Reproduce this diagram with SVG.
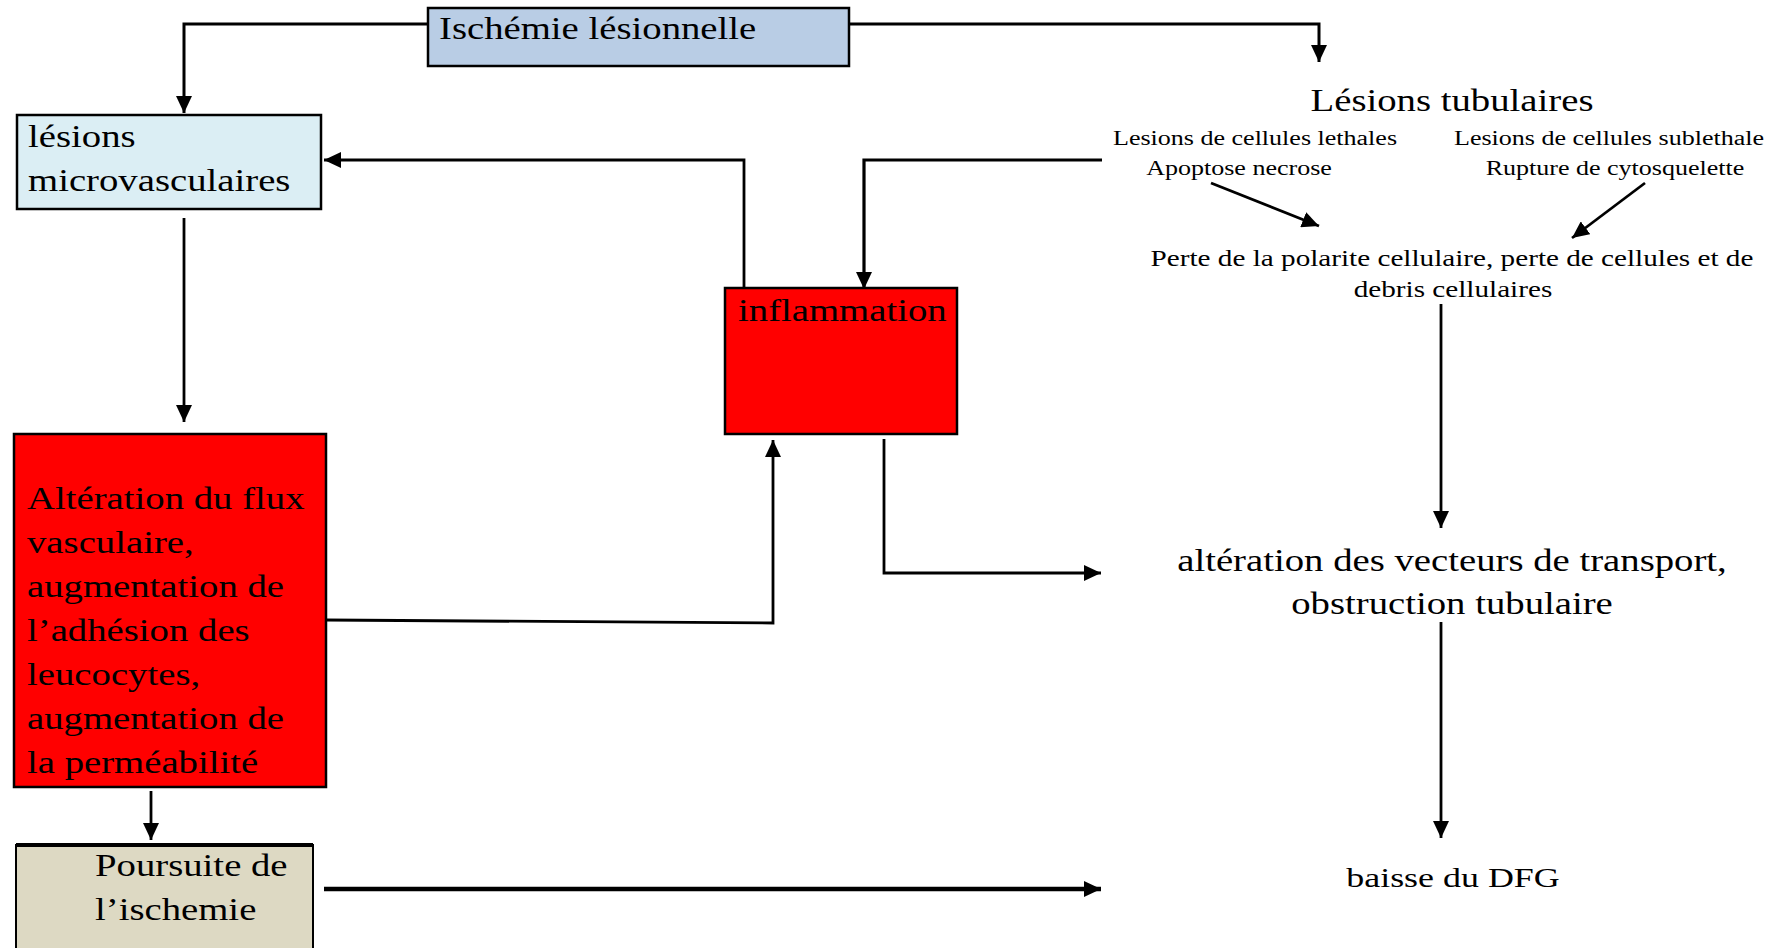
<svg xmlns="http://www.w3.org/2000/svg" width="1780" height="948" viewBox="0 0 1780 948">
<defs>
<marker id="ah" markerUnits="userSpaceOnUse" markerWidth="18" markerHeight="16" refX="17" refY="8" orient="auto">
<path d="M0,0 L17,8 L0,16 z" fill="#000"/>
</marker>
<style>
.box{stroke:#000;stroke-width:2.5}
.t{font-family:"Liberation Serif","Times New Roman",serif;fill:#000}
.L{font-size:30.5px}
.S{font-size:20.5px}
.M{font-size:23px}
.m{text-anchor:middle}
.c{fill:none;stroke:#000;stroke-width:2.8;marker-end:url(#ah)}
</style>
</defs>
<rect width="1780" height="948" fill="#fff"/>
<g id="ischemie">
<rect class="box" x="428" y="8" width="421" height="58" fill="#b9cde5"/>
<text class="t L" transform="translate(439,39) scale(1.27,1)">Ischémie lésionnelle</text>
</g>
<g id="lesions-micro">
<rect class="box" x="17" y="115" width="304" height="94" fill="#dbeef4"/>
<text class="t L" transform="translate(28,147) scale(1.27,1)">lésions</text>
<text class="t L" transform="translate(28,191) scale(1.27,1)">microvasculaires</text>
</g>
<g id="alteration-flux">
<rect class="box" x="14" y="434" width="312" height="353" fill="#ff0000"/>
<text class="t L" transform="translate(27,509) scale(1.27,1)">Altération du flux</text>
<text class="t L" transform="translate(27,553) scale(1.27,1)">vasculaire,</text>
<text class="t L" transform="translate(27,597) scale(1.27,1)">augmentation de</text>
<text class="t L" transform="translate(27,641) scale(1.27,1)">l’adhésion des</text>
<text class="t L" transform="translate(27,685) scale(1.27,1)">leucocytes,</text>
<text class="t L" transform="translate(27,729) scale(1.27,1)">augmentation de</text>
<text class="t L" transform="translate(27,773) scale(1.27,1)">la perméabilité</text>
</g>
<g id="poursuite">
<rect x="16" y="845" width="297" height="120" fill="#ddd9c3" stroke="#000" stroke-width="2"/>
<line x1="16" y1="845" x2="313" y2="845" stroke="#000" stroke-width="4"/>
<text class="t L" transform="translate(95,876) scale(1.27,1)">Poursuite de</text>
<text class="t L" transform="translate(95,920) scale(1.27,1)">l’ischemie</text>
</g>
<g id="inflammation">
<rect class="box" x="725" y="288" width="232" height="146" fill="#ff0000"/>
<text class="t L" transform="translate(738,321) scale(1.27,1)">inflammation</text>
</g>
<g id="lesions-tubulaires">
<text class="t L m" transform="translate(1452,111) scale(1.27,1)">Lésions tubulaires</text>
</g>
<g id="lethales">
<text class="t S m" transform="translate(1255,145) scale(1.27,1)">Lesions de cellules lethales</text>
<text class="t S m" transform="translate(1239,175) scale(1.27,1)">Apoptose necrose</text>
</g>
<g id="sublethale">
<text class="t S m" transform="translate(1609,145) scale(1.27,1)">Lesions de cellules sublethale</text>
<text class="t S m" transform="translate(1615,175) scale(1.27,1)">Rupture de cytosquelette</text>
</g>
<g id="perte">
<text class="t M m" transform="translate(1452,266) scale(1.27,1)">Perte de la polarite cellulaire, perte de cellules et de</text>
<text class="t M m" transform="translate(1453,297) scale(1.27,1)">debris cellulaires</text>
</g>
<g id="alteration-vecteurs">
<text class="t L m" transform="translate(1452,571) scale(1.27,1)">altération des vecteurs de transport,</text>
<text class="t L m" transform="translate(1452,614) scale(1.27,1)">obstruction tubulaire</text>
</g>
<g id="dfg">
<text class="t m" style="font-size:28.3px" transform="translate(1453,887) scale(1.27,1)">baisse du DFG</text>
</g>
<g id="connectors">
<path class="c" style="stroke-width:3" d="M428,24 H184 V113"/>
<path class="c" style="stroke-width:3" d="M849,24 H1319 V62"/>
<path class="c" style="stroke-width:3.2" d="M1102,160 H864 V289"/>
<path class="c" d="M744,288 V160 H324"/>
<path class="c" d="M184,218 V422"/>
<path class="c" d="M326,620 L773,623 V440"/>
<path class="c" d="M884,439 V573 H1101"/>
<path class="c" d="M1441,304 V528"/>
<path class="c" d="M1441,622 V838"/>
<path class="c" d="M151,791 V840"/>
<path class="c" style="stroke-width:4.5" d="M324,889 H1101"/>
<path class="c" d="M1211,183 L1319,226"/>
<path class="c" d="M1645,183 L1572,238"/>
</g>
</svg>
